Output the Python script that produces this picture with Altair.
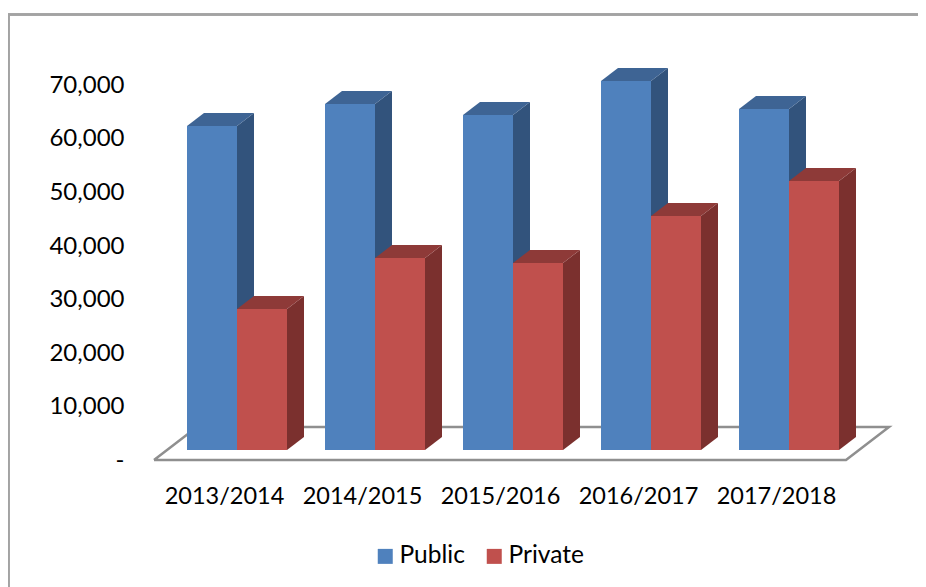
import altair as alt
import pandas as pd

years = ["2013/2014", "2014/2015", "2015/2016", "2016/2017", "2017/2018"]
public = [60450, 64550, 62500, 68850, 63620]
private = [26300, 35800, 34900, 43650, 50200]
ticks = [0, 10000, 20000, 30000, 40000, 50000, 60000, 70000]
series = ["Public", "Private"]
front_colors = ["#4F81BD", "#C0504D"]
side_colors = {"Public": "#32537C", "Private": "#7B302E"}
top_colors = {"Public": "#3E6494", "Private": "#8E3A38"}

W, H = 910, 579
BAR = 50 / 138
DX = 17 / 138
DZ = 13 / 0.00536
x_scale = alt.Scale(domain=[-179 / 138, 731 / 138], nice=False, zero=False)
y_scale = alt.Scale(domain=[(450 - 587) / 0.00536, (450 - 8) / 0.00536], nice=False, zero=False)

fronts, sides, tops = [], [], []
for s, vals, off in (("Public", public, 0), ("Private", private, BAR)):
    for i, v in enumerate(vals):
        L = i + off
        R = L + BAR
        fronts.append(dict(series=s, x=L, x2=R, y=0, y2=v))
        key = f"{s}{i}"
        sides.append(dict(series=s, key=key, x=R, y=v, y2=0))
        sides.append(dict(series=s, key=key, x=R + DX, y=v + DZ, y2=DZ))
        tops.append(dict(series=s, key=key, y=v, x=L, x2=R))
        tops.append(dict(series=s, key=key, y=v + DZ, x=L + DX, x2=R + DX))
fronts, sides, tops = map(pd.DataFrame, (fronts, sides, tops))

floor_x = [-33 / 138, 659 / 138, 702 / 138, 10 / 138, -33 / 138]
floor_y = [-1870, -1870, 4300, 4300, -1870]
floor = pd.DataFrame({"x": floor_x, "y": floor_y, "o": range(5)})

FONT = "Lato"
CENTER = 37 / 138
names = "[" + ",".join(f"'{y}'" for y in years) + "]"
x_axis = alt.Axis(
    values=[i + CENTER for i in range(5)],
    labelExpr=f"{names}[round(datum.value - {CENTER})]",
    title=None, domain=False, ticks=False, grid=False, offset=-(H - 476), labelPadding=0,
    labelFont=FONT, labelFontSize=23.5, labelColor="#000000", labelBaseline="top",
    labelOverlap=False, labelFlush=False,
)
y_axis = alt.Axis(
    values=ticks,
    labelExpr="datum.value === 0 ? '-\u00a0\u00a0\u00a0' : format(datum.value, ',')",
    title=None, domain=False, ticks=False, grid=False, offset=-116, labelPadding=0,
    labelFont=FONT, labelFontSize=24, labelColor="#000000", labelOffset=10.5,
    labelOverlap=False, labelFlush=False,
)

frame_line = dict(color="#A3A3A3", strokeWidth=2)
frame_top = alt.Chart(floor).mark_rule(**frame_line).encode(
    x=alt.value(0), x2=alt.value(W), y=alt.value(6.5))
frame_left = alt.Chart(floor).mark_rule(**frame_line).encode(
    x=alt.value(0.5), y=alt.value(6), y2=alt.value(H))

floor_line = alt.Chart(floor).mark_line(color="#8F8F8F", strokeWidth=2.5).encode(
    x=alt.X("x:Q", scale=x_scale, axis=x_axis),
    y=alt.Y("y:Q", scale=y_scale, axis=y_axis),
    order="o:Q",
)


def faces(s):
    side = alt.Chart(sides[sides.series == s]).mark_area(
        orient="vertical", color=side_colors[s]
    ).encode(
        x=alt.X("x:Q", scale=x_scale),
        y=alt.Y("y:Q", scale=y_scale, stack=None),
        y2="y2:Q",
        detail="key:N",
    )
    top = alt.Chart(tops[tops.series == s]).mark_area(
        orient="horizontal", color=top_colors[s]
    ).encode(
        y=alt.Y("y:Q", scale=y_scale),
        x=alt.X("x:Q", scale=x_scale, stack=None),
        x2="x2:Q",
        detail="key:N",
    )
    front = alt.Chart(fronts[fronts.series == s]).mark_bar().encode(
        x=alt.X("x:Q", scale=x_scale),
        x2="x2:Q",
        y=alt.Y("y:Q", scale=y_scale),
        y2="y2:Q",
        color=alt.Color(
            "series:N",
            scale=alt.Scale(domain=series, range=front_colors),
            legend=alt.Legend(
                title=None, orient="none", legendX=365, legendY=536, direction="horizontal",
                symbolType="square", symbolSize=225, symbolStrokeWidth=0, symbolOpacity=1,
                labelFont=FONT, labelFontSize=24.5, labelColor="#000000", labelOffset=2,
                columnPadding=17, labelLimit=200,
            ),
        ),
    )
    return [side, top, front]


chart = alt.layer(
    frame_top, frame_left, floor_line, *faces("Public"), *faces("Private")
).properties(
    width=W, height=H, padding=0, autosize=alt.AutoSizeParams(type="none"), background="white"
).configure_view(stroke=None)

chart.save("out.html", embed_options={"renderer": "svg", "actions": False})
